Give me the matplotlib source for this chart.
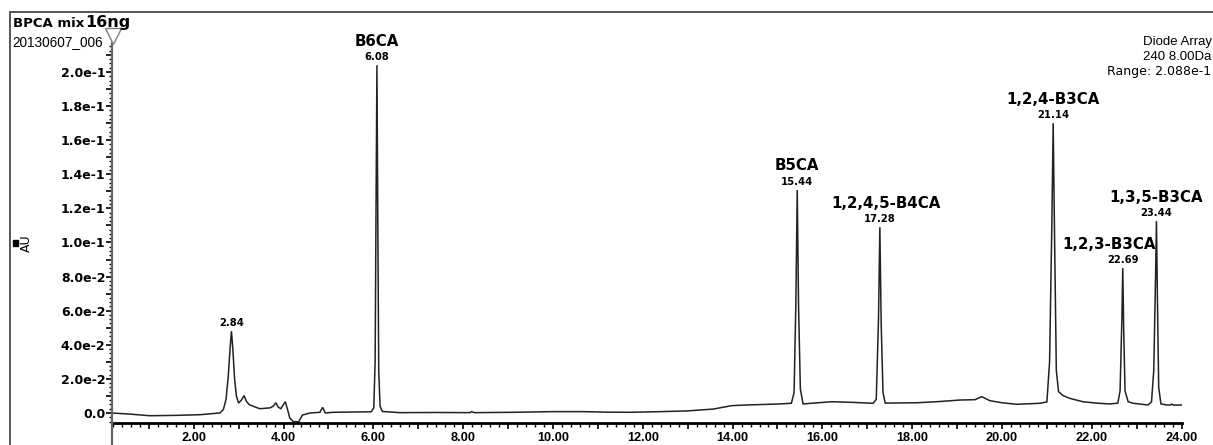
import math
import matplotlib
matplotlib.use("Agg")
import matplotlib.pyplot as plt
from matplotlib.ticker import MultipleLocator, FuncFormatter
from matplotlib.patches import Rectangle
from matplotlib.lines import Line2D

# ---- chromatogram trace (retention time in min, absorbance in AU) ----
time_min = [
    0.18, 0.60, 1.02, 1.60, 2.14, 2.58, 2.66, 2.72, 2.77, 2.81, 2.84, 2.87,
    2.91, 2.95, 3.00, 3.06, 3.12, 3.17, 3.24, 3.47, 3.70, 3.77, 3.83, 3.88,
    3.94, 4.00, 4.04, 4.09, 4.14, 4.22, 4.34, 4.42, 4.59, 4.81, 4.87, 4.93,
    5.10, 5.60, 5.95, 6.01, 6.04, 6.06, 6.08, 6.10, 6.12, 6.15, 6.20, 6.59,
    7.40, 8.15, 8.19, 8.25, 9.10, 10.00, 10.67, 11.20, 11.70, 12.40, 12.98,
    13.57, 13.98, 14.31, 15.06, 15.31, 15.37, 15.41, 15.44, 15.47, 15.51,
    15.57, 16.10, 16.24, 16.70, 17.13, 17.20, 17.25, 17.28, 17.31, 17.35,
    17.40, 18.10, 18.60, 19.06, 19.40, 19.55, 19.73, 20.00, 20.33, 20.85,
    21.00, 21.06, 21.11, 21.14, 21.17, 21.21, 21.26, 21.36, 21.51, 21.80,
    22.10, 22.40, 22.58, 22.63, 22.67, 22.69, 22.71, 22.74, 22.81, 22.92,
    23.25, 23.33, 23.38, 23.42, 23.44, 23.46, 23.49, 23.54, 23.67, 23.75,
    23.78, 23.82, 24.00,
]
absorbance_au = [
    0.0000, -0.0007, -0.0016, -0.0014, -0.0010, 0.0000, 0.0020, 0.0080,
    0.0220, 0.0380, 0.0480, 0.0380, 0.0200, 0.0100, 0.0058, 0.0075, 0.0102,
    0.0070, 0.0048, 0.0025, 0.0030, 0.0040, 0.0060, 0.0035, 0.0025, 0.0050,
    0.0066, 0.0020, -0.0030, -0.0051, -0.0051, -0.0012, 0.0000, 0.0004,
    0.0033, 0.0000, 0.0004, 0.0006, 0.0007, 0.0030, 0.0300, 0.1200, 0.2040,
    0.1100, 0.0250, 0.0040, 0.0009, 0.0002, 0.0003, 0.0002, 0.0008, 0.0002,
    0.0004, 0.0008, 0.0008, 0.0005, 0.0004, 0.0008, 0.0012, 0.0023, 0.0043,
    0.0047, 0.0053, 0.0057, 0.0120, 0.0650, 0.1308, 0.0620, 0.0140, 0.0053,
    0.0064, 0.0066, 0.0062, 0.0057, 0.0080, 0.0550, 0.1090, 0.0520, 0.0120,
    0.0058, 0.0060, 0.0067, 0.0076, 0.0078, 0.0096, 0.0072, 0.0060, 0.0051,
    0.0057, 0.0065, 0.0300, 0.1100, 0.1700, 0.1050, 0.0250, 0.0125, 0.0102,
    0.0086, 0.0066, 0.0058, 0.0053, 0.0058, 0.0130, 0.0550, 0.0850, 0.0500,
    0.0130, 0.0066, 0.0057, 0.0047, 0.0065, 0.0250, 0.0800, 0.1126, 0.0700,
    0.0150, 0.0053, 0.0047, 0.0047, 0.0052, 0.0046, 0.0047,
]

# ---- integrated peaks ----
peak_times = [2.84, 6.08, 15.44, 17.28, 21.14, 22.69, 23.44]
peak_heights = [0.0480, 0.2040, 0.1308, 0.1090, 0.1700, 0.0850, 0.1126]
peak_names = ["", "B6CA", "B5CA", "1,2,4,5-B4CA", "1,2,4-B3CA",
              "1,2,3-B3CA", "1,3,5-B3CA"]

# ---- header text ----
sample_name = "BPCA mix"
sample_amount = "16ng"
file_id = "20130607_006"
detector_lines = ["Diode Array", "240 8.00Da", "Range: 2.088e-1"]
y_label = "AU"

# ---------------------------------------------------------------------
W, H, DPI = 1213, 445, 100
fig = plt.figure(figsize=(W / DPI, H / DPI), dpi=DPI)


def fx(px):
    return px / W


def fy(py):
    return 1 - py / H


PT = 72 / DPI  # points per pixel

# plot area in pixels
ax_left, ax_right, ax_top, ax_bottom = 112, 1181.6, 43, 423
ax = fig.add_axes([fx(ax_left), fy(ax_bottom),
                   (ax_right - ax_left) / W, (ax_bottom - ax_top) / H])
ax.set_xlim(0.18, 24.0)
ax.set_ylim(-0.00587, 0.217)
ax.patch.set_alpha(0)

ax.plot(time_min, absorbance_au, color="#222222", lw=1.1,
        solid_joinstyle="miter")

# spines
for s in ("top", "right"):
    ax.spines[s].set_visible(False)
ax.spines["left"].set_color("#666666")
ax.spines["left"].set_linewidth(1.6)
ax.spines["bottom"].set_color("black")
ax.spines["bottom"].set_linewidth(2.0)

# x ticks
ax.xaxis.set_major_locator(MultipleLocator(1))
ax.xaxis.set_minor_locator(MultipleLocator(0.2))
ax.xaxis.set_major_formatter(FuncFormatter(
    lambda v, p: f"{v:.2f}" if round(v) % 2 == 0 else ""))
ax.tick_params(axis="x", which="major", direction="out", length=6 * PT,
               width=1.2, pad=2, labelsize=9.2, colors="black")
ax.tick_params(axis="x", which="minor", direction="out", length=3.5 * PT,
               width=1.0)


def y_fmt(v, p):
    k = round(v / 0.01)
    if k % 2:
        return ""
    if k == 0:
        return "0.0"
    e = math.floor(math.log10(abs(v)) + 1e-9)
    return f"{v / 10 ** e:.1f}e{e}"


ax.yaxis.set_major_locator(MultipleLocator(0.01))
ax.yaxis.set_minor_locator(MultipleLocator(0.0025))
ax.yaxis.set_major_formatter(FuncFormatter(y_fmt))
ax.tick_params(axis="y", which="major", direction="out", length=6 * PT,
               width=1.2, pad=0.5, labelsize=9)
ax.tick_params(axis="y", which="minor", direction="out", length=3.5 * PT,
               width=1.0)
for lab in ax.get_xticklabels():
    lab.set_fontfamily("Liberation Sans")
    lab.set_fontweight("bold")
for lab in ax.get_yticklabels():
    lab.set_fontfamily("DejaVu Sans")
    lab.set_fontweight("bold")

# peak annotations: retention time right above apex, compound name above it
name_shift_px = {"1,2,4,5-B4CA": 6, "1,2,3-B3CA": -14}
for t, h, name in zip(peak_times, peak_heights, peak_names):
    ax.annotate(f"{t:.2f}", xy=(t, h), xytext=(0, 8 * PT),
                textcoords="offset points", ha="center", va="center",
                fontsize=7.2, fontweight="bold", family="DejaVu Sans",
                annotation_clip=False)
    if name:
        ax.annotate(name, xy=(t, h),
                    xytext=(name_shift_px.get(name, 0) * PT, 24 * PT),
                    textcoords="offset points", ha="center", va="center",
                    fontsize=10.8, fontweight="bold", family="DejaVu Sans",
                    annotation_clip=False)

# outer frame
fig.patches.append(Rectangle((fx(10), -0.2), 1.2, fy(12) + 0.2,
                             transform=fig.transFigure, fill=False,
                             edgecolor="#5a5a5a", lw=2 * PT,
                             clip_on=False))

# left axis line continues below the time axis
fig.add_artist(Line2D([fx(ax_left), fx(ax_left)], [fy(ax_bottom), fy(446)],
                      transform=fig.transFigure, color="#666666", lw=1.6))

# marker at the top of the intensity axis
fig.add_artist(Line2D([fx(113)], [fy(36)], transform=fig.transFigure,
                      marker="v", markersize=13 * PT * 1.2,
                      markerfacecolor="white", markeredgecolor="#808080",
                      markeredgewidth=1.0, linestyle="none"))

# header
fig.text(fx(13), fy(27), sample_name, ha="left", va="baseline",
         fontsize=9.5, fontweight="bold", family="DejaVu Sans")
fig.text(fx(85), fy(27), sample_amount, ha="left", va="baseline",
         fontsize=11.5, fontweight="bold", family="DejaVu Sans")
fig.text(fx(12), fy(46), file_id, ha="left", va="baseline",
         fontsize=9.8, family="Liberation Sans")

# detector / channel info in the top right corner
det_pos = [(1143, 42), (1143, 57), (1107, 71)]
det_family = ["Liberation Sans", "Liberation Sans", "DejaVu Sans"]
det_size = [9.5, 9.5, 9]
for (x0, yc), line, fam, fs in zip(det_pos, detector_lines, det_family,
                                   det_size):
    fig.text(fx(x0), fy(yc), line, ha="left", va="center", fontsize=fs,
             family=fam)

# intensity label with its small square mark
fig.text(fx(26), fy(243), y_label, rotation=90, ha="center", va="center",
         fontsize=9, family="DejaVu Sans")
fig.patches.append(Rectangle((fx(13), fy(246)), 5 / W, 6 / H,
                             transform=fig.transFigure, color="black"))

fig.savefig("out.png", dpi=DPI)
